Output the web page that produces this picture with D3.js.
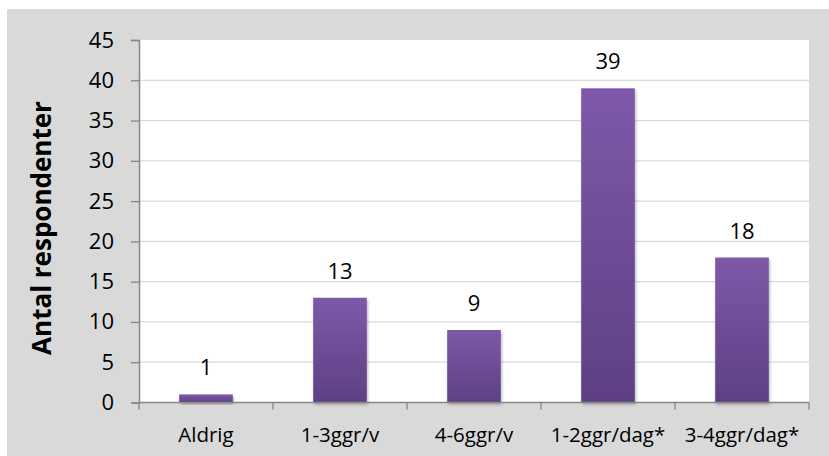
<!DOCTYPE html>
<html>
<head>
<meta charset="utf-8">
<script src="https://cdn.jsdelivr.net/npm/d3@7"></script>
<style>
  html, body { margin: 0; padding: 0; background: #fff; }
  svg { display: block; }
  text { font-family: "Open Sans", "Noto Sans", sans-serif; fill: #000; }
</style>
</head>
<body>
<svg id="chart" width="829" height="456"></svg>
<script>
// Responses per frequency group
const categories = ["Aldrig", "1-3ggr/v", "4-6ggr/v", "1-2ggr/dag*", "3-4ggr/dag*"];
const counts = [1, 13, 9, 39, 18];
const yTicks = [0, 5, 10, 15, 20, 25, 30, 35, 40, 45];
const yTitle = "Antal respondenter";

const W = 829, H = 456;
const plot = { left: 139, right: 809, top: 40, bottom: 402.5 };

const svg = d3.select("#chart");

// chart background and plot area
svg.append("rect").attr("x", 7).attr("y", 9).attr("width", W - 7).attr("height", H - 9).attr("fill", "#d9d9d9");
svg.append("rect").attr("x", plot.left).attr("y", plot.top)
  .attr("width", plot.right - plot.left).attr("height", plot.bottom - plot.top).attr("fill", "#fff");

const defs = svg.append("defs");
const grad = defs.append("linearGradient").attr("id", "barFill").attr("x1", 0).attr("y1", 0).attr("x2", 0).attr("y2", 1);
grad.append("stop").attr("offset", "0%").attr("stop-color", "#7d59a9");
grad.append("stop").attr("offset", "100%").attr("stop-color", "#5e4083");
const shadow = defs.append("filter").attr("id", "barShadow").attr("x", "-20%").attr("y", "-20%").attr("width", "140%").attr("height", "140%");
shadow.append("feDropShadow").attr("dx", 1).attr("dy", 2).attr("stdDeviation", 1.5)
  .attr("flood-color", "#000").attr("flood-opacity", 0.3);

const y = d3.scaleLinear().domain([0, 45]).range([plot.bottom, plot.top]);
const x = d3.scaleBand().domain(categories).range([plot.left, plot.right])
  .paddingInner(0.6).paddingOuter(0.3);
const step = x.step();

// gridlines
svg.append("g").selectAll("line").data(yTicks.filter(t => t > 0 && t < 45)).join("line")
  .attr("x1", plot.left).attr("x2", plot.right)
  .attr("y1", d => y(d)).attr("y2", d => y(d))
  .attr("stroke", "#d9d9d9").attr("stroke-width", 1.3);

// bars
svg.append("g").selectAll("rect").data(categories).join("rect")
  .attr("x", d => x(d)).attr("width", x.bandwidth())
  .attr("y", (d, i) => y(counts[i])).attr("height", (d, i) => y(0) - y(counts[i]))
  .attr("fill", "url(#barFill)").attr("filter", "url(#barShadow)");

// value labels
svg.append("g").selectAll("text").data(categories).join("text")
  .attr("x", d => x(d) + x.bandwidth() / 2)
  .attr("y", (d, i) => y(counts[i]) - 19)
  .attr("text-anchor", "middle").attr("font-size", 22)
  .text((d, i) => counts[i]);

// y axis
const yAxis = d3.axisLeft(y).tickValues(yTicks).tickSize(8).tickPadding(17);
const gy = svg.append("g").attr("transform", `translate(${plot.left},0)`).call(yAxis);
gy.select(".domain").attr("stroke", "#868686").attr("stroke-width", 1.5);
gy.selectAll(".tick line").attr("stroke", "#868686").attr("stroke-width", 1.3);
gy.selectAll(".tick text").attr("font-size", 22).attr("font-family", "'Open Sans', sans-serif").attr("fill", "#000");

// x axis: baseline with ticks at category boundaries
const bounds = d3.range(categories.length + 1).map(i => plot.left + i * step);
svg.append("line").attr("x1", plot.left).attr("x2", plot.right)
  .attr("y1", plot.bottom).attr("y2", plot.bottom)
  .attr("stroke", "#868686").attr("stroke-width", 1.5);
svg.append("g").selectAll("line").data(bounds).join("line")
  .attr("x1", d => d).attr("x2", d => d)
  .attr("y1", plot.bottom).attr("y2", plot.bottom + 7)
  .attr("stroke", "#868686").attr("stroke-width", 1.3);
svg.append("g").selectAll("text").data(categories).join("text")
  .attr("x", d => x(d) + x.bandwidth() / 2).attr("y", 442)
  .attr("text-anchor", "middle").attr("font-size", 20.5)
  .text(d => d);

// y title
svg.append("text")
  .attr("transform", "translate(51,228) rotate(-90)")
  .attr("text-anchor", "middle").attr("font-size", 26).attr("font-weight", "bold")
  .text(yTitle);
</script>
</body>
</html>
